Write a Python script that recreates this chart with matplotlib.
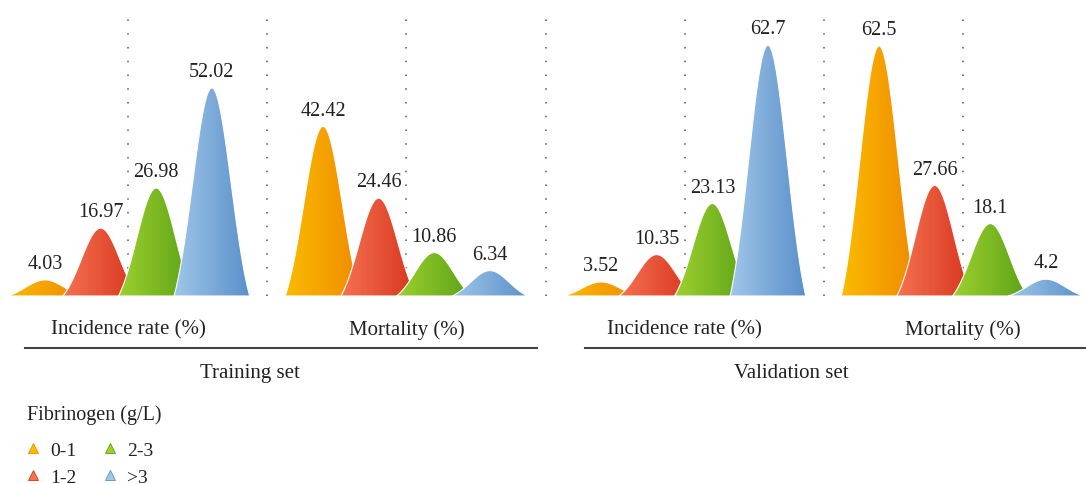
import numpy as np
import matplotlib.pyplot as plt
from matplotlib.patches import Polygon
from matplotlib.lines import Line2D
from matplotlib.colors import to_rgb

plt.rcParams['font.family'] = ['Liberation Serif', 'DejaVu Serif']

groups = ['Training set', 'Validation set']
measures = ['Incidence rate (%)', 'Mortality (%)']
levels = ['0-1', '1-2', '2-3', '>3']

train_incidence = [4.03, 16.97, 26.98, 52.02]
train_mortality = [42.42, 24.46, 10.86, 6.34]
valid_incidence = [3.52, 10.35, 23.13, 62.7]
valid_mortality = [62.5, 27.66, 18.1, 4.2]

# light (left) -> dark (right) gradient for each fibrinogen level
grad_colors = [('#FBBB00', '#EF8A00'),
               ('#F5724F', '#D8341E'),
               ('#9DD02F', '#5CA217'),
               ('#A0C6E9', '#5A90CA')]

panels = [train_incidence, train_mortality, valid_incidence, valid_mortality]
txt = '#222222'


def peak_shape(x0, h, half=0.68, sig=0.35, n=200):
    t = np.linspace(-half, half, n)
    g = np.exp(-t**2 / (2 * sig**2))
    e0 = np.exp(-half**2 / (2 * sig**2))
    y = h * (g - e0) / (1 - e0)
    return x0 + t, y


fig = plt.figure(figsize=(10.86, 4.85), dpi=100)
ax = fig.add_axes([0, (485 - 297) / 485, 1, 282 / 485])

for p, vals in enumerate(panels):
    for k, v in enumerate(vals):
        xc = p * 5 + k
        xs, ys = peak_shape(xc, v)
        poly = Polygon(np.column_stack([xs, ys]), closed=True, facecolor='none',
                       edgecolor='white', linewidth=0.8, zorder=3 + k)
        ax.add_patch(poly)
        rgb0 = np.array(to_rgb(grad_colors[k][0]))
        rgb1 = np.array(to_rgb(grad_colors[k][1]))
        frac = np.linspace(0, 1, 64)[:, None]
        img = (rgb0 * (1 - frac) + rgb1 * frac)[None, :, :]
        im = ax.imshow(img, extent=[xs[0], xs[-1], 0, v], aspect='auto',
                       interpolation='bilinear', zorder=2 + k)
        im.set_clip_path(poly)
        ax.annotate(str(v), (xc, v), xytext=(0, 8.5), textcoords='offset points',
                    ha='center', va='baseline', fontsize=14.5, color=txt)

ax.set_xlim(-0.81, 18.72)
ax.set_ylim(0, 70.5)

# dotted separators at every half-panel
for g in np.arange(1.5, 18, 2.5):
    ax.axvline(g, color='#555555', linestyle=(0, (1, 8)), linewidth=1.1, zorder=1)

ax.set_yticks([])
ax.set_xticks([1.5, 6.5, 11.5, 16.5])
ax.set_xticklabels(measures * 2, fontsize=15, color=txt)
ax.tick_params(axis='x', length=0, pad=17)
for s in ax.spines.values():
    s.set_visible(False)

trans = ax.get_xaxis_transform()
group_spans = [(-0.36, 8.85), (9.71, 18.72)]
group_centers = [3.69, 13.42]
for (a, b), c, name in zip(group_spans, group_centers, groups):
    ax.plot([a, b], [-0.184, -0.184], transform=trans, color='#444444',
            linewidth=1.5, clip_on=False)
    ax.text(c, -0.27, name, transform=trans, ha='center', va='center',
            fontsize=15, color=txt)

fig.text(27 / 1086, 1 - 415 / 485, 'Fibrinogen (g/L)', ha='left', va='center',
         fontsize=14.5, color=txt)

handles = [Line2D([], [], linestyle='none', marker='^', markersize=7,
                  markerfacecolor=grad_colors[k][0], markeredgecolor=grad_colors[k][1],
                  markeredgewidth=0.6)
           for k in range(4)]
leg = fig.legend(handles, levels, ncol=2, loc='upper left',
                 bbox_to_anchor=(27 / 1086, 1 - 442 / 485),
                 frameon=False, fontsize=14,
                 handlelength=0.6, handletextpad=0.58, columnspacing=1.44,
                 labelspacing=0.5, borderpad=0, borderaxespad=0)
for t in leg.get_texts():
    t.set_color(txt)

fig.savefig('out.png', dpi=100)
